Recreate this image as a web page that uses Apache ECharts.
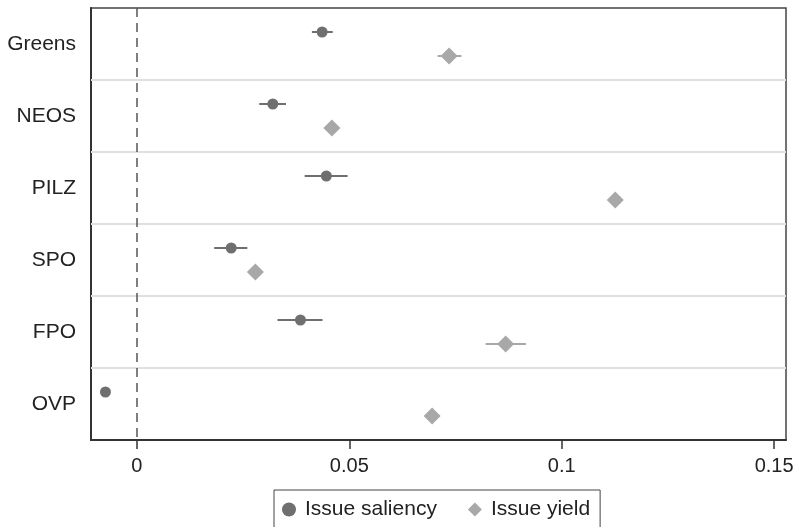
<!DOCTYPE html>
<html>
<head>
<meta charset="utf-8">
<script src="https://cdn.jsdelivr.net/npm/echarts@6/dist/echarts.min.js"></script>
<style>
  html, body { margin: 0; padding: 0; background: #fff; }
  #chart { width: 803px; height: 527px; }
</style>
</head>
<body>
<div id="chart"></div>
<script>
const parties = ["Greens", "NEOS", "PILZ", "SPO", "FPO", "OVP"];
const xTicks = [0, 0.05, 0.1, 0.15];

// point estimates
const saliency = [0.0436, 0.0320, 0.0446, 0.0222, 0.0385, -0.0074];
const yieldVal = [0.0735, 0.0459, 0.1126, 0.0279, 0.0868, 0.0695];

// confidence intervals
const saliencyLo = [0.0412, 0.0288, 0.0395, 0.0182, 0.0331, -0.0082];
const saliencyHi = [0.0461, 0.0351, 0.0496, 0.0260, 0.0437, -0.0066];
const yieldLo = [0.0708, 0.0449, 0.1116, 0.0270, 0.0821, 0.0686];
const yieldHi = [0.0764, 0.0469, 0.1136, 0.0288, 0.0916, 0.0704];

const DARK = "#6f6f6f", LIGHT = "#a8a8a8", TXT = "#222";
const off = 1 / 6; // vertical offset of each series within its row

const rowY = (i, d) => i + 0.5 + d;
const ptData = (vals, d) => vals.map((v, i) => [v, rowY(i, d)]);
const ciData = (lo, hi, d) => lo.map((l, i) => [l, hi[i], rowY(i, d)]);

function ciSeries(name, lo, hi, d, color) {
  return {
    name, type: "custom", xAxisIndex: 0, yAxisIndex: 1, z: 2, silent: true,
    encode: { x: [0, 1], y: 2 },
    data: ciData(lo, hi, d),
    renderItem: (params, api) => {
      const a = api.coord([api.value(0), api.value(2)]);
      const b = api.coord([api.value(1), api.value(2)]);
      return { type: "line", shape: { x1: a[0], y1: a[1], x2: b[0], y2: b[1] },
        style: { stroke: color, lineWidth: 2 } };
    }
  };
}

echarts.init(document.getElementById("chart")).setOption({
  animation: false,
  grid: { left: 91, right: 17, top: 8, bottom: 87, show: true, borderColor: "#444", borderWidth: 1.5 },
  legend: {
    left: 274, top: 490,
    data: [{ name: "Issue saliency", icon: "circle" }, { name: "Issue yield", icon: "diamond" }],
    itemWidth: 14, itemHeight: 14, itemGap: 31,
    padding: [9, 10, 20, 8],
    borderColor: "#444", borderWidth: 1,
    textStyle: { fontFamily: "Liberation Sans", fontSize: 21, color: TXT, padding: [0, 0, 0, 4] }
  },
  xAxis: {
    type: "value", min: -0.0108, max: 0.1528,
    splitLine: { show: false },
    axisLine: { onZero: false, lineStyle: { color: "#333", width: 2 } },
    axisTick: { show: true, length: 9, customValues: xTicks, lineStyle: { color: "#333", width: 1.5 } },
    axisLabel: { customValues: xTicks, margin: 16, fontFamily: "Liberation Sans", fontSize: 20, color: TXT,
      formatter: v => String(v) }
  },
  yAxis: [
    {
      type: "category", data: parties, inverse: true, boundaryGap: true,
      axisLine: { onZero: false, lineStyle: { color: "#333", width: 2 } },
      axisTick: { alignWithLabel: true, length: 8, lineStyle: { color: "#333", width: 1.5 } },
      axisLabel: { margin: 15, fontFamily: "Liberation Sans", fontSize: 21, color: TXT },
      splitLine: { show: false }
    },
    { type: "value", min: 0, max: 6, inverse: true, show: false, splitLine: { show: false } }
  ],
  series: [
    ciSeries("saliency CI", saliencyLo, saliencyHi, -off, DARK),
    ciSeries("yield CI", yieldLo, yieldHi, off, LIGHT),
    {
      name: "Issue saliency", type: "scatter", yAxisIndex: 1, z: 3,
      symbol: "circle", symbolSize: 11, itemStyle: { color: DARK, opacity: 1 },
      data: ptData(saliency, -off),
      markLine: {
        silent: true, symbol: "none", label: { show: false },
        lineStyle: { color: "#e0e0e0", width: 2, type: "solid" },
        data: [1, 2, 3, 4, 5].map(y => ({ yAxis: y }))
      }
    },
    {
      name: "Issue yield", type: "scatter", yAxisIndex: 1, z: 3,
      symbol: "diamond", symbolSize: 17, itemStyle: { color: LIGHT, opacity: 1 },
      data: ptData(yieldVal, off),
      markLine: {
        silent: true, symbol: "none", label: { show: false },
        lineStyle: { color: "#555", width: 1.5, type: [9, 6] },
        data: [{ xAxis: 0 }]
      }
    }
  ]
});
</script>
</body>
</html>
